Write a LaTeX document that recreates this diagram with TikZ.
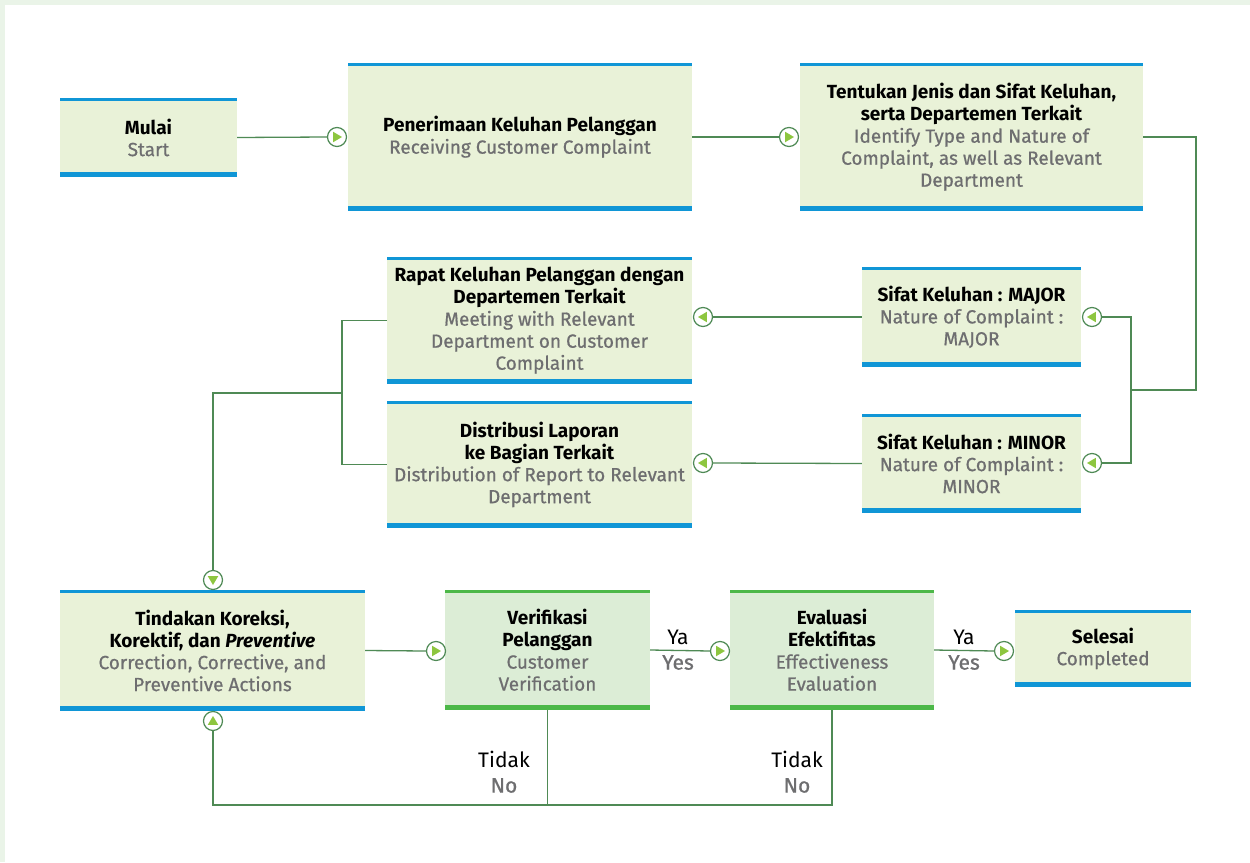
\documentclass[tikz,border=0pt]{standalone}
\usepackage{fontspec}
\setmainfont{Fira Sans}
\definecolor{boxfill}{RGB}{233,242,216}
\definecolor{vboxfill}{RGB}{220,237,214}
\definecolor{lineblue}{RGB}{16,150,214}
\definecolor{linegreen}{RGB}{76,184,72}
\definecolor{conngreen}{RGB}{79,138,85}
\definecolor{tipgreen}{RGB}{141,198,63}
\definecolor{txtgrey}{RGB}{110,110,112}
\definecolor{framegreen}{RGB}{234,244,232}
\newcommand{\eng}[1]{{\mdseries\color{txtgrey}\addfontfeature{FakeBold=0.7}#1}}
\begin{document}
\begin{tikzpicture}[x=1pt,y=-1pt,
    box/.style={inner sep=0pt, align=center, fill=boxfill,
      font=\fontsize{19}{22}\selectfont\bfseries,
      path picture={
        \fill[#1] (path picture bounding box.north west) rectangle ([yshift=-3pt]path picture bounding box.north east);
        \fill[#1] (path picture bounding box.south west) rectangle ([yshift=5pt]path picture bounding box.south east);}},
    box/.default=lineblue,
    vbox/.style={box=linegreen, fill=vboxfill},
    tip/.style={circle, draw=conngreen, line width=1.2pt, fill=white, minimum size=19pt, inner sep=0pt,
      path picture={\fill[tipgreen]
        ([shift={(#1:5pt)}]path picture bounding box.center) --
        ([shift={(#1+127:6.6pt)}]path picture bounding box.center) --
        ([shift={(#1-127:6.6pt)}]path picture bounding box.center) -- cycle;}},
    conn/.style={draw=conngreen, line width=1.3pt},
    lbl/.style={align=center, inner sep=0pt, font=\fontsize{21}{25}\selectfont}]
  % background and frame
  \fill[white] (0,0) rectangle (1250,862);
  \useasboundingbox (0,0) rectangle (1250,862);
  \fill[framegreen] (0,0) rectangle (1250,5);
  \fill[framegreen] (0,0) rectangle (5,862);

  % boxes
  \node[box, minimum width=177, minimum height=79] (mulai) at (148.5,137.5) {Mulai\\\eng{Start}};
  \node[box, minimum width=344, minimum height=148] (terima) at (520,137) {Penerimaan Keluhan Pelanggan\\\eng{Receiving Customer Complaint}};
  \node[box, minimum width=343, minimum height=148] (jenis) at (971.5,137) {Tentukan Jenis dan Sifat Keluhan,\\serta Departemen Terkait\\\eng{Identify Type and Nature of}\\\eng{Complaint, as well as Relevant}\\\eng{Department}};
  \node[box, minimum width=305, minimum height=127] (rapat) at (539.5,320.5) {Rapat Keluhan Pelanggan dengan\\Departemen Terkait\\\eng{Meeting with Relevant}\\\eng{Department on Customer}\\\eng{Complaint}};
  \node[box, minimum width=305, minimum height=127] (distribusi) at (539.5,464.5) {Distribusi Laporan\\ke Bagian Terkait\\\eng{Distribution of Report to Relevant}\\\eng{Department}};
  \node[box, minimum width=219, minimum height=100] (major) at (971.5,317) {Sifat Keluhan : MAJOR\\\eng{Nature of Complaint :}\\\eng{MAJOR}};
  \node[box, minimum width=219, minimum height=99] (minor) at (971.5,463.5) {Sifat Keluhan : MINOR\\\eng{Nature of Complaint :}\\\eng{MINOR}};
  \node[box, minimum width=305, minimum height=121] (tindakan) at (212.5,650.5) {Tindakan Koreksi,\\Korektif, dan \textit{Preventive}\\\eng{Correction, Corrective, and}\\\eng{Preventive Actions}};
  \node[vbox, minimum width=205, minimum height=120] (verif) at (547.5,650) {Verifikasi\\Pelanggan\\\eng{Customer}\\\eng{Verification}};
  \node[vbox, minimum width=204, minimum height=120] (evaluasi) at (832,650) {Evaluasi\\Efektifitas\\\eng{Effectiveness}\\\eng{Evaluation}};
  \node[box, minimum width=176, minimum height=77] (selesai) at (1103,648.5) {Selesai\\\eng{Completed}};

  % arrow circles
  \node[tip=0] (t1) at (337,137) {};
  \node[tip=0] (t2) at (789,137) {};
  \node[tip=180] (tmajor) at (1092,317) {};
  \node[tip=180] (tminor) at (1092,463) {};
  \node[tip=180] (trapat) at (703,317) {};
  \node[tip=180] (tdist) at (703,463) {};
  \node[tip=-90] (tdown) at (213,580) {};
  \node[tip=90] (tup) at (213,721) {};
  \node[tip=0] (t5) at (436,651) {};
  \node[tip=0] (t6) at (720,651) {};
  \node[tip=0] (t7) at (1004,651) {};

  % joints
  \coordinate (k1) at (1196,390);
  \coordinate (j1) at (1131,390);
  \coordinate (j2) at (342,393);
  \coordinate (b1) at (832,805);

  % connectors
  \draw[conn] (mulai.east) -- (t1.west);
  \draw[conn] (terima.east) -- (t2.west);
  \draw[conn] (jenis.east) -| (k1) -- (j1);
  \draw[conn] (tmajor.east) -| (j1) |- (tminor.east);
  \draw[conn] (major.west) -- (trapat.east);
  \draw[conn] (minor.west) -- (tdist.east);
  \draw[conn] (rapat.west) -| (j2) |- (distribusi.west);
  \draw[conn] (j2) -| (tdown.north);
  \draw[conn] (tindakan.east) -- (t5.west);
  \draw[conn] (verif.east) -- (t6.west);
  \draw[conn] (evaluasi.east) -- (t7.west);
  \draw[conn] (verif.south) -- (verif.south |- b1);
  \draw[conn] (evaluasi.south) -- (b1) -| (tup.south);

  % labels
  \node[lbl] (ya1) at (678,650) {Ya\\\eng{Yes}};
  \node[lbl] (ya2) at (964,650) {Ya\\\eng{Yes}};
  \node[lbl] (tidak1) at (504,772) {Tidak\\\eng{No}};
  \node[lbl] (tidak2) at (797,772) {Tidak\\\eng{No}};
\end{tikzpicture}
\end{document}
